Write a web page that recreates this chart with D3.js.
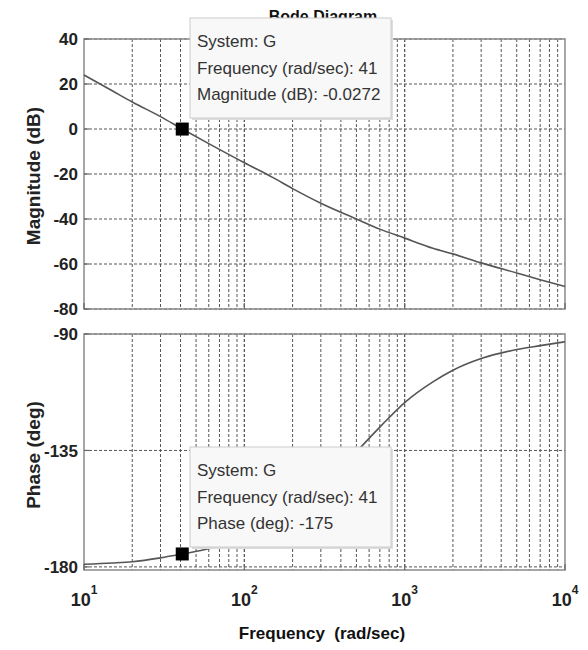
<!DOCTYPE html>
<html><head><meta charset="utf-8">
<script src="https://cdn.jsdelivr.net/npm/d3@7"></script>
<style>
body{margin:0;background:#fff;}
text{font-family:"Liberation Sans Narrow","Liberation Sans",Arial,sans-serif;}
</style></head>
<body><svg id="c" width="588" height="650"></svg>
<script>
const freqs   = [10, 15, 20, 30, 41, 60, 100, 150, 200, 300, 500, 700, 1000, 1500, 2000, 3000, 5000, 7000, 10000];
const magDb   = [24, 17, 12, 5.5, 0, -6.5, -15, -21.5, -26.5, -33, -40, -44.5, -48.5, -53, -55.5, -59.5, -64, -67, -70];
const phaseDg = [-179, -178.5, -178, -176.5, -175, -173, -168.5, -163, -158, -149.5, -135.5, -126, -116.5, -108.5, -104, -99.5, -96, -94.5, -93];
const magTicks = [40, 20, 0, -20, -40, -60, -80];
const phaseTicks = [-90, -135, -180];
const decadeTicks = [10, 100, 1000, 10000];
const decadeExp = ["1", "2", "3", "4"];
const cursor = {freq: 41, mag: -0.0272, phase: -175};
const magTip = ["System: G", "Frequency (rad/sec): 41", "Magnitude (dB): -0.0272"];
const phaseTip = ["System: G", "Frequency (rad/sec): 41", "Phase (deg): -175"];

const svg = d3.select("#c");
const x = d3.scaleLog().domain([10, 1e4]).range([84, 565]);
const yM = d3.scaleLinear().domain([-80, 40]).range([309, 39]);
const yP = d3.scaleLinear().domain([-181.2, -90]).range([570, 334]);

const minors = [];
for (let d = 10; d < 1e4; d *= 10) for (let k = 1; k <= 10; k++) minors.push(d * k);

function panel(y, ticks, vals, label, labelY) {
  const [y0, y1] = [y.range()[1], y.range()[0]];
  const g = svg.append("g");
  g.selectAll(".vg").data(minors.filter(f => f > 10 && f < 1e4)).enter().append("line")
    .attr("x1", d => x(d)).attr("x2", d => x(d)).attr("y1", y0).attr("y2", y1)
    .attr("stroke", "#555").attr("stroke-width", 1).attr("stroke-dasharray", "3,2");
  g.selectAll(".hg").data(ticks).enter().append("line")
    .attr("x1", x.range()[0]).attr("x2", x.range()[1]).attr("y1", d => y(d)).attr("y2", d => y(d))
    .attr("stroke", "#555").attr("stroke-width", 1).attr("stroke-dasharray", "3,2");
  g.append("rect").attr("x", x.range()[0]).attr("y", y0).attr("width", x.range()[1] - x.range()[0])
    .attr("height", y1 - y0).attr("fill", "none").attr("stroke", "#8a8a8a").attr("stroke-width", 1.5);
  g.selectAll(".dt").data(decadeTicks).enter().append("line")
    .attr("x1", d => x(d)).attr("x2", d => x(d)).attr("y1", y1).attr("y2", y1 - 6)
    .attr("stroke", "#666").attr("stroke-width", 1.2);
  g.selectAll(".yt").data(ticks).enter().append("line")
    .attr("x1", x.range()[0]).attr("x2", x.range()[0] + 5).attr("y1", d => y(d)).attr("y2", d => y(d))
    .attr("stroke", "#666").attr("stroke-width", 1.2);
  g.selectAll(".yl").data(ticks).enter().append("text")
    .attr("x", 78).attr("y", d => y(d)).attr("dy", "0.36em").attr("text-anchor", "end")
    .attr("font-size", 17).attr("font-weight", "bold").attr("fill", "#222").text(d => d);
  const line = d3.line().x((d, i) => x(freqs[i])).y(d => y(d)).curve(d3.curveMonotoneX);
  g.append("path").datum(vals).attr("d", line).attr("fill", "none").attr("stroke", "#555").attr("stroke-width", 1.6);
  g.append("text").attr("transform", `translate(40,${labelY}) rotate(-90)`).attr("text-anchor", "middle")
    .attr("font-size", 19).attr("font-weight", 600).attr("fill", "#222").text(label);
  return g;
}

svg.append("text").attr("x", 323).attr("y", 22).attr("text-anchor", "middle").attr("font-size", 16)
  .attr("font-weight", "bold").attr("fill", "#111").text("Bode Diagram");

panel(yM, magTicks, magDb, "Magnitude (dB)", 176);
panel(yP, phaseTicks, phaseDg, "Phase (deg)", 455);

svg.append("rect").attr("x", x(cursor.freq) - 6.5).attr("y", yM(cursor.mag) - 6.5).attr("width", 13).attr("height", 13).attr("fill", "#000");
svg.append("rect").attr("x", x(cursor.freq) - 6.5).attr("y", yP(cursor.phase) - 6.5).attr("width", 13).attr("height", 13).attr("fill", "#000");

function tip(top, lines) {
  const g = svg.append("g");
  g.append("rect").attr("x", 192).attr("y", top + 2).attr("width", 201).attr("height", 100).attr("fill", "#ddd");
  g.append("rect").attr("x", 190).attr("y", top).attr("width", 201).attr("height", 100)
    .attr("fill", "#f8f8f8").attr("stroke", "#ccc").attr("stroke-width", 1);
  lines.forEach((t, i) => g.append("text").attr("x", 197).attr("y", top + 29 + i * 26.5)
    .attr("font-size", 17).attr("fill", "#333").text(t));
}
tip(18, magTip);
tip(447, phaseTip);

const xl = svg.selectAll(".xl").data(decadeTicks).enter().append("text")
  .attr("x", d => x(d)).attr("y", 606).attr("text-anchor", "middle")
  .attr("font-size", 18).attr("font-weight", "bold").attr("fill", "#222");
xl.append("tspan").text("10");
xl.append("tspan").attr("dy", -12).attr("font-size", 12).text((d, i) => decadeExp[i]);

svg.append("text").attr("x", 322).attr("y", 639).attr("text-anchor", "middle").attr("font-size", 17)
  .attr("font-weight", "bold").attr("fill", "#111").attr("xml:space", "preserve").text("Frequency  (rad/sec)");
</script></body></html>
